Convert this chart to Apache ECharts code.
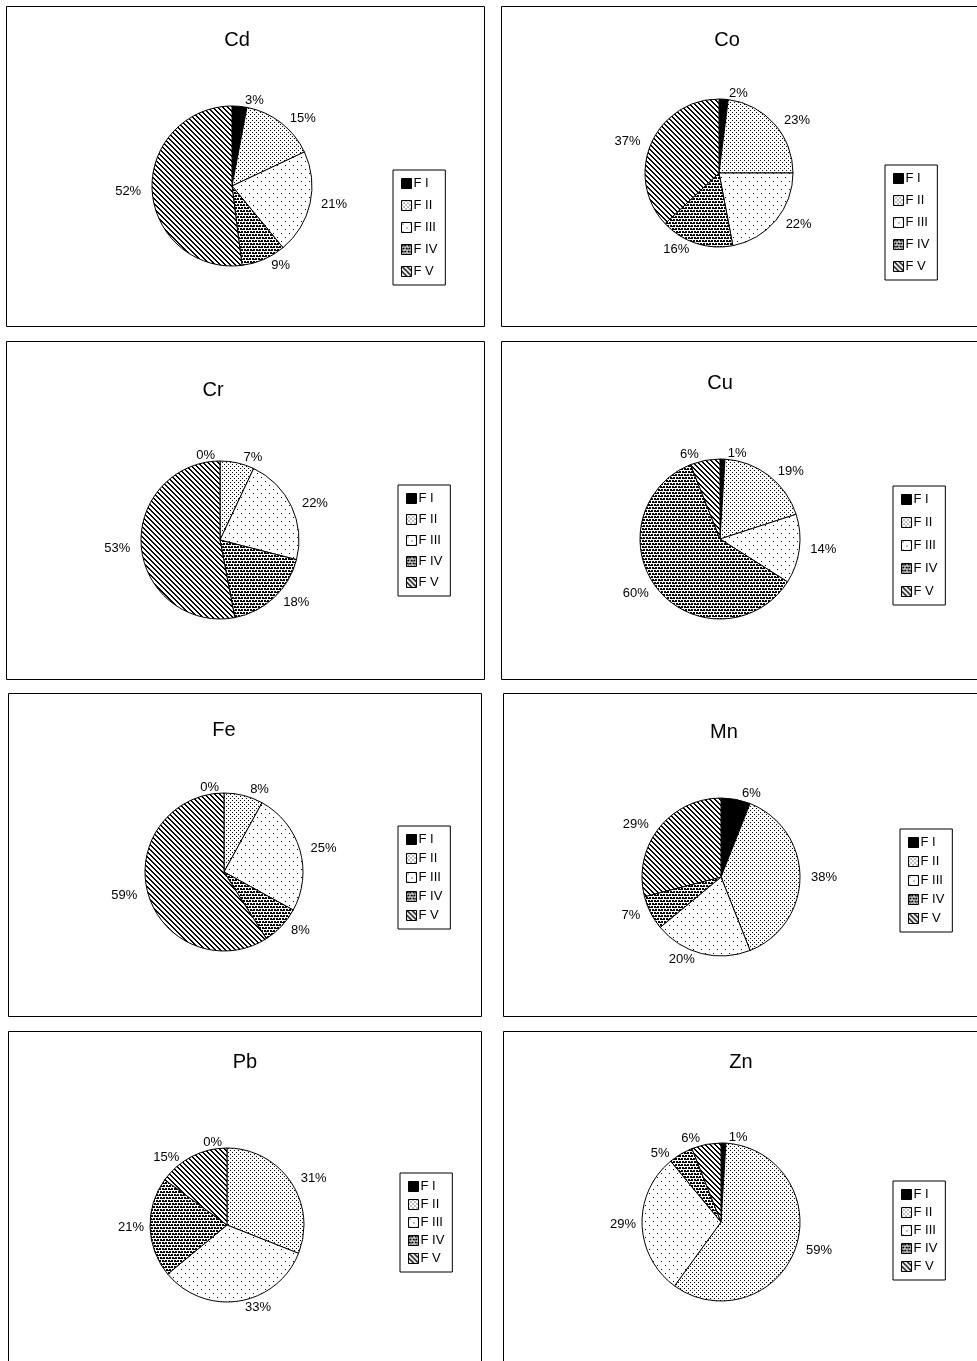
<!DOCTYPE html>
<html><head><meta charset="utf-8">
<script src="https://cdn.jsdelivr.net/npm/echarts@6/dist/echarts.min.js"></script>
<style>html,body{margin:0;padding:0;background:#fff}#c{width:977px;height:1361px}</style>
</head><body><div id="c"></div>
<script>
// ---- data ----
const fractions = ['F I', 'F II', 'F III', 'F IV', 'F V'];
const elements = ['Cd', 'Co', 'Cr', 'Cu', 'Fe', 'Mn', 'Pb', 'Zn'];
const Cd = [3, 15, 21, 9, 52];
const Co = [2, 23, 22, 16, 37];
const Cr = [0, 7, 22, 18, 53];
const Cu = [1, 19, 14, 60, 6];
const Fe = [0, 8, 25, 8, 59];
const Mn = [6, 38, 20, 7, 29];
const Pb = [0, 31, 33, 21, 15];
const Zn = [1, 59, 29, 5, 6];
const values = {Cd, Co, Cr, Cu, Fe, Mn, Pb, Zn};

// ---- layout (pixels) ----
const layout = [
  {box:[6,6,478,320],   c:[232,186], r:80, t:[237,40],  lg:[393,170], gap:9},
  {box:[501,6,480,320], c:[719,173], r:74, t:[727,40],  lg:[885,165], gap:9},
  {box:[6,341,478,338], c:[220,540], r:79, t:[213,390], lg:[398,485], gap:8},
  {box:[501,341,480,338],c:[720,539],r:80, t:[720,383], lg:[893,486], gap:10},
  {box:[8,693,473,323], c:[224,872], r:79, t:[224,730], lg:[398,826], gap:6},
  {box:[503,693,478,323],c:[721,877],r:79, t:[724,732], lg:[900,829], gap:6},
  {box:[8,1031,473,335],c:[227,1225],r:77, t:[245,1062],lg:[400,1173], gap:5},
  {box:[503,1031,478,335],c:[721,1222],r:79,t:[741,1062],lg:[893,1181], gap:5}
];

function pat(w, h, draw) {
  const c = document.createElement('canvas');
  c.width = w; c.height = h;
  const g = c.getContext('2d');
  g.fillStyle = '#fff'; g.fillRect(0, 0, w, h);
  g.fillStyle = '#000';
  draw(g);
  return {image: c, repeat: 'repeat'};
}
const fills = [
  '#000',
  pat(4, 4, g => { g.fillRect(0,0,1,1); g.fillRect(2,2,1,1); }),
  pat(8, 8, g => { g.fillRect(1,1,1,1); g.fillRect(5,5,1,1); }),
  pat(6, 6, g => { g.fillRect(0,0,2,2); g.fillRect(3,0,2,2); g.fillRect(1,3,2,2); g.fillRect(4,3,2,2); g.fillRect(2,1,1,1); g.fillRect(5,4,1,1); g.fillRect(0,4,1,1); }),
  pat(5, 5, g => { for (let y=0;y<5;y++) for (let x=0;x<5;x++){ const d=((x-y)%5+5)%5; if(d===0||d===1) g.fillRect(x,y,1,1);} })
];

const FONT = '"Liberation Sans", Arial, sans-serif';
const series = [], legends = [], graphics = [];
elements.forEach((el, i) => {
  const L = layout[i];
  graphics.push({type:'rect', shape:{x:L.box[0]+0.5, y:L.box[1]+0.5, width:L.box[2], height:L.box[3]},
    style:{fill:'none', stroke:'#000', lineWidth:1}, silent:true});
  graphics.push({type:'text', x:L.t[0], y:L.t[1], style:{text:el, font:'20px ' + FONT,
    fill:'#000', textAlign:'center', textVerticalAlign:'middle'}});
  series.push({
    type:'pie', name:el, center:L.c, radius:L.r, startAngle:90, clockwise:true,
    avoidLabelOverlap:true, animation:false,
    itemStyle:{borderColor:'#000', borderWidth:1},
    label:{show:true, position:'outside', formatter:'{c}%', color:'#000', fontSize:13, fontFamily:FONT},
    labelLine:{show:false, length:6, length2:0},
    emphasis:{disabled:true},
    data: values[el].map((v, k) => ({name:fractions[k], value:v, itemStyle:{color:fills[k]}}))
  });
  legends.push({
    orient:'vertical', left:L.lg[0], top:L.lg[1], data:fractions, icon:'rect',
    itemWidth:10, itemHeight:10, itemGap:L.gap, padding:[7,8,7,8],
    borderColor:'#000', borderWidth:1, selectedMode:false,
    textStyle:{fontSize:13, color:'#000', lineHeight:13, fontFamily:FONT, padding:[0,0,0,-3]},
    itemStyle:{borderColor:'#000', borderWidth:1}
  });
});

const chart = echarts.init(document.getElementById('c'), null, {renderer:'canvas'});
chart.setOption({backgroundColor:'#fff', animation:false, series, legend:legends, graphic:graphics});
</script></body></html>
